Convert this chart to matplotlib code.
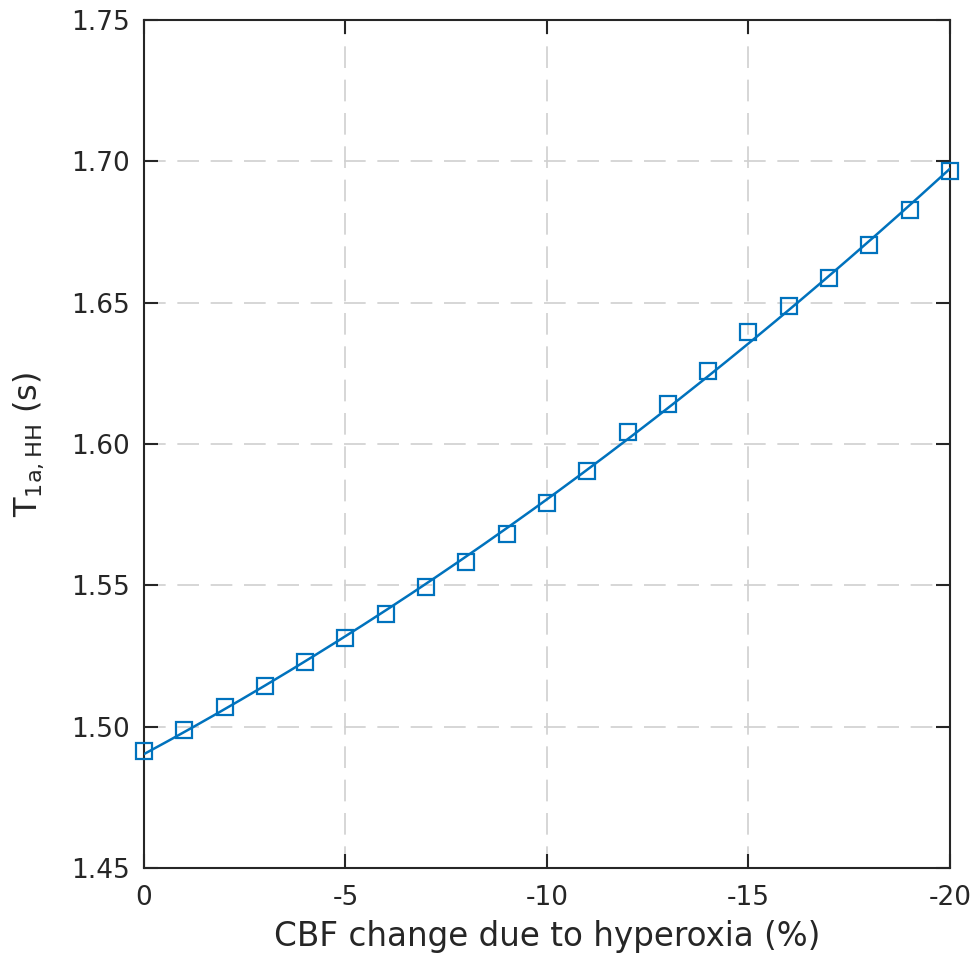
import numpy as np
import matplotlib
matplotlib.use("Agg")
import matplotlib.pyplot as plt

cbf_change = [0, -1, -2, -3, -4, -5, -6, -7, -8, -9, -10,
              -11, -12, -13, -14, -15, -16, -17, -18, -19, -20]
t1a_hh = [1.4914, 1.4988, 1.5070, 1.5144, 1.5229, 1.5314, 1.5399, 1.5494,
          1.5583, 1.5682, 1.5791, 1.5905, 1.6043, 1.6142, 1.6258, 1.6396,
          1.6488, 1.6587, 1.6704, 1.6828, 1.6966]
xticks = [0, -5, -10, -15, -20]
yticks = [1.45, 1.50, 1.55, 1.60, 1.65, 1.70, 1.75]

blue = "#0072BD"
plt.rcParams['font.family'] = ['DejaVu Sans']
plt.rcParams['mathtext.fontset'] = 'dejavusans'

fig = plt.figure(figsize=(9.8, 9.57), dpi=100)
ax = fig.add_axes([0.1469, 0.0930, 0.8225, 0.8861])

x = np.array(cbf_change, dtype=float)
y = np.array(t1a_hh)
coef = np.polyfit(x, y, 2)
xf = np.linspace(0, -20, 200)
ax.plot(xf, np.polyval(coef, xf), color=blue, lw=1.8, zorder=3)
ax.plot(x, y, linestyle='none', marker='s', markersize=11, markerfacecolor='none',
        markeredgecolor=blue, markeredgewidth=1.6, zorder=4, clip_on=False)

ax.set_xlim(0, -20)
ax.set_ylim(1.45, 1.75)
ax.set_xticks(xticks)
ax.set_xticklabels([str(v) for v in xticks])
ax.set_yticks(yticks)
ax.set_yticklabels([f"{v:.2f}" for v in yticks])
ax.grid(True, color='#d0d0d0', linestyle=(0, (13, 7)), linewidth=1.2)
ax.set_axisbelow(True)
ax.tick_params(direction='in', length=10, width=1.5, labelsize=19, colors='#262626',
               top=True, right=True)
ax.tick_params(axis='x', pad=12)
ax.tick_params(axis='y', pad=10)
for s in ax.spines.values():
    s.set_linewidth(1.5)
    s.set_color('#262626')

ax.set_xlabel("CBF change due to hyperoxia (%)", fontsize=23.5, color='#262626', labelpad=7)
ax.set_ylabel(r"T$_{\mathrm{1a,HH}}$ (s)", fontsize=23, color='#262626', labelpad=18)

fig.savefig("out.png", dpi=100)
